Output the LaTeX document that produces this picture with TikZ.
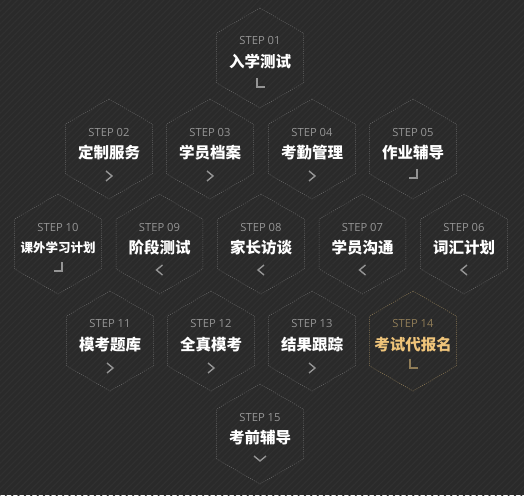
\documentclass[tikz,border=0pt]{standalone}
\usepackage{fontspec}
\setmainfont{Open Sans}
\newfontfamily\cjk{Noto Sans CJK SC}
\usepackage{tikz}
\usetikzlibrary{shapes, positioning, patterns.meta}
\definecolor{fond}{HTML}{2A2A2A}
\definecolor{raie}{HTML}{303030}
\definecolor{trait}{HTML}{686868}
\definecolor{gris}{HTML}{959595}
\definecolor{or}{HTML}{EFC47A}
\definecolor{ordoux}{HTML}{8F7C57}

\begin{document}
\begin{tikzpicture}[x=1pt, y=1pt,
		hexa/.style={regular polygon, regular polygon sides=6, regular polygon rotate=30,
			minimum size=100pt, inner sep=0pt, draw=trait, line width=0.5pt,
			dash pattern=on 1pt off 1.2pt},
		etape/.style={font=\fontsize{11.2}{13}\selectfont, text=gris, inner sep=0pt},
		titre/.style={font=\cjk\bfseries\fontsize{15.5}{17}\selectfont, text=white, inner sep=0pt},
		fleche/.style={draw=gris, line width=1.4pt},
		]
		
		% Le fond
		\fill[fond] (0,0) rectangle (524,495);
		\fill[pattern={Lines[angle=45, distance=4.5pt, line width=1.2pt]}, pattern color=raie] (0,0) rectangle (524,495);
		
		% Les hexagones
		\node[hexa] (h1) at (260,437) {};
		\node[hexa] (h2) at (109,346) {};
		\node[hexa] (h3) at (210,346) {};
		\node[hexa] (h4) at (312,346) {};
		\node[hexa] (h5) at (413,346) {};
		\node[hexa] (h10) at (58,251) {};
		\node[hexa] (h9) at (159.5,251) {};
		\node[hexa] (h8) at (261,251) {};
		\node[hexa] (h7) at (362.5,251) {};
		\node[hexa] (h6) at (464,251) {};
		\node[hexa] (h11) at (110,154) {};
		\node[hexa] (h12) at (211,154) {};
		\node[hexa] (h13) at (312,154) {};
		\node[hexa, draw=ordoux] (h14) at (413,154) {};
		\node[hexa] (h15) at (260,61) {};
		
		% Les textes
		\node[etape] (e1) at ([yshift=17pt]h1.center) {STEP 01};
		\node[titre] (t1) at ([yshift=-4pt]h1.center) {入学测试};
		\node[etape] (e2) at ([yshift=17pt]h2.center) {STEP 02};
		\node[titre] (t2) at ([yshift=-4pt]h2.center) {定制服务};
		\node[etape] (e3) at ([yshift=17pt]h3.center) {STEP 03};
		\node[titre] (t3) at ([yshift=-4pt]h3.center) {学员档案};
		\node[etape] (e4) at ([yshift=17pt]h4.center) {STEP 04};
		\node[titre] (t4) at ([yshift=-4pt]h4.center) {考勤管理};
		\node[etape] (e5) at ([yshift=17pt]h5.center) {STEP 05};
		\node[titre] (t5) at ([yshift=-4pt]h5.center) {作业辅导};
		\node[etape] (e6) at ([yshift=17pt]h6.center) {STEP 06};
		\node[titre] (t6) at ([yshift=-4pt]h6.center) {词汇计划};
		\node[etape] (e7) at ([yshift=17pt]h7.center) {STEP 07};
		\node[titre] (t7) at ([yshift=-4pt]h7.center) {学员沟通};
		\node[etape] (e8) at ([yshift=17pt]h8.center) {STEP 08};
		\node[titre] (t8) at ([yshift=-4pt]h8.center) {家长访谈};
		\node[etape] (e9) at ([yshift=17pt]h9.center) {STEP 09};
		\node[titre] (t9) at ([yshift=-4pt]h9.center) {阶段测试};
		\node[etape] (e10) at ([yshift=17pt]h10.center) {STEP 10};
		\node[titre, font=\cjk\bfseries\fontsize{12.5}{14}\selectfont] (t10) at ([yshift=-4pt]h10.center) {课外学习计划};
		\node[etape] (e11) at ([yshift=17pt]h11.center) {STEP 11};
		\node[titre] (t11) at ([yshift=-4pt]h11.center) {模考题库};
		\node[etape] (e12) at ([yshift=17pt]h12.center) {STEP 12};
		\node[titre] (t12) at ([yshift=-4pt]h12.center) {全真模考};
		\node[etape] (e13) at ([yshift=17pt]h13.center) {STEP 13};
		\node[titre] (t13) at ([yshift=-4pt]h13.center) {结果跟踪};
		\node[etape, text=ordoux] (e14) at ([yshift=17pt]h14.center) {STEP 14};
		\node[titre, text=or] (t14) at ([yshift=-4pt]h14.center) {考试代报名};
		\node[etape] (e15) at ([yshift=17pt]h15.center) {STEP 15};
		\node[titre] (t15) at ([yshift=-4pt]h15.center) {考前辅导};
		
		% Les flèches
		\draw[fleche] ([shift={(-3,-20)}]h1.center) -- ++(0,-9) -- ++(8,0);
		\draw[fleche] ([shift={(-3,-22)}]h2.center) -- ++(6,-5) -- ++(-6,-5);
		\draw[fleche] ([shift={(-3,-22)}]h3.center) -- ++(6,-5) -- ++(-6,-5);
		\draw[fleche] ([shift={(-3,-22)}]h4.center) -- ++(6,-5) -- ++(-6,-5);
		\draw[fleche] ([shift={(-4,-29)}]h5.center) -- ++(8,0) -- ++(0,9);
		\draw[fleche] ([shift={(3,-21)}]h6.center) -- ++(-6,-5) -- ++(6,-5);
		\draw[fleche] ([shift={(3,-21)}]h7.center) -- ++(-6,-5) -- ++(6,-5);
		\draw[fleche] ([shift={(3,-21)}]h8.center) -- ++(-6,-5) -- ++(6,-5);
		\draw[fleche] ([shift={(3,-21)}]h9.center) -- ++(-6,-5) -- ++(6,-5);
		\draw[fleche] ([shift={(-4,-27)}]h10.center) -- ++(8,0) -- ++(0,9);
		\draw[fleche] ([shift={(-3,-22)}]h11.center) -- ++(6,-5) -- ++(-6,-5);
		\draw[fleche] ([shift={(-3,-22)}]h12.center) -- ++(6,-5) -- ++(-6,-5);
		\draw[fleche] ([shift={(-3,-22)}]h13.center) -- ++(6,-5) -- ++(-6,-5);
		\draw[fleche, draw=ordoux] ([shift={(-3,-18)}]h14.center) -- ++(0,-9) -- ++(8,0);
		\draw[fleche] ([shift={(-6,-22)}]h15.center) -- ++(6,-5) -- ++(6,5);
	\end{tikzpicture}
\end{document}
